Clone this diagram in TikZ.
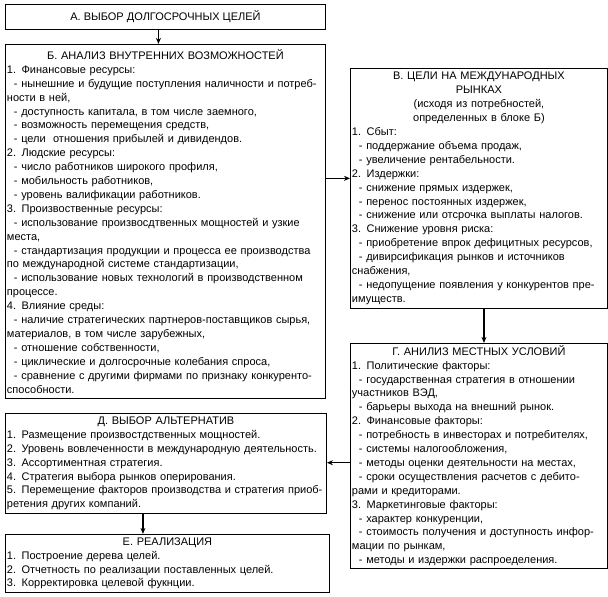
\documentclass[tikz,border=0pt]{standalone}
\usepackage{fontspec}
\setmainfont{Liberation Sans}
\usetikzlibrary{arrows.meta,positioning}
\tikzset{>={Stealth[length=6pt,width=5pt]},
  box/.style={draw=black,line width=0.9pt,anchor=north west,align=left,
    inner xsep=1.5pt,inner ysep=2pt,font=\fontsize{11}{13.9}\selectfont},
  flow/.style={->,line width=1.2pt,black}}
\newcommand{\ttl}[1]{\makebox[\hsize][c]{#1}}
\newcommand{\dl}{\hspace*{7pt}- }

\begin{document}
\begin{tikzpicture}[x=1pt,y=1pt]
  \useasboundingbox (0,0) rectangle (608,-597);
  \node[box,align=center,minimum width=320pt,minimum height=25pt] (a) at (5,-4)
    {А. ВЫБОР ДОЛГОСРОЧНЫХ ЦЕЛЕЙ};
  \node[box,text width=317pt,minimum height=354pt,below=14pt of a.south west,anchor=north west] (b)
    {\ttl{Б. АНАЛИЗ ВНУТРЕННИХ ВОЗМОЖНОСТЕЙ}\\
     1. Финансовые ресурсы:\\
     \dl нынешние и будущие поступления наличности и потреб-\\
     ности в ней,\\
     \dl доступность капитала, в том числе заемного,\\
     \dl возможность перемещения средств,\\
     \dl цели\ \ отношения прибылей и дивидендов.\\
     2. Людские ресурсы:\\
     \dl число работников широкого профиля,\\
     \dl мобильность работников,\\
     \dl уровень валификации работников.\\
     3. Произвоственные ресурсы:\\
     \dl использование произвосдтвенных мощностей и узкие\\
     места,\\
     \dl стандартизация продукции и процесса ее производства\\
     по международной системе стандартизации,\\
     \dl использование новых технологий в производственном\\
     процессе.\\
     4. Влияние среды:\\
     \dl наличие стратегических партнеров-поставщиков сырья,\\
     материалов, в том числе зарубежных,\\
     \dl отношение собственности,\\
     \dl циклические и долгосрочные колебания спроса,\\
     \dl сравнение с другими фирмами по признаку конкуренто-\\
     способности.};
  \node[box,text width=254pt,minimum height=240pt] (v) at (350,-68)
    {\ttl{В. ЦЕЛИ НА МЕЖДУНАРОДНЫХ}\\
     \ttl{РЫНКАХ}\\
     \ttl{(исходя из потребностей,}\\
     \ttl{определенных в блоке Б)}\\
     1. Сбыт:\\
     \dl поддержание объема продаж,\\
     \dl увеличение рентабельности.\\
     2. Издержки:\\
     \dl снижение прямых издержек,\\
     \dl перенос постоянных издержек,\\
     \dl снижение или отсрочка выплаты налогов.\\
     3. Снижение уровня риска:\\
     \dl приобретение впрок дефицитных ресурсов,\\
     \dl дивирсификация рынков и источников\\
     снабжения,\\
     \dl недопущение появления у конкурентов пре-\\
     имуществ.};
  \node[box,text width=254pt,minimum height=223pt,below=34pt of v.south west,anchor=north west] (g)
    {\ttl{Г. АНИЛИЗ МЕСТНЫХ УСЛОВИЙ}\\
     1. Политические факторы:\\
     \dl государственная стратегия в отношении\\
     участников ВЭД,\\
     \dl барьеры выхода на внешний рынок.\\
     2. Финансовые факторы:\\
     \dl потребность в инвесторах и потребителях,\\
     \dl системы налогообложения,\\
     \dl методы оценки деятельности на местах,\\
     \dl сроки осуществления расчетов с дебито-\\
     рами и кредиторами.\\
     3. Маркетинговые факторы:\\
     \dl характер конкуренции,\\
     \dl стоимость получения и доступность инфор-\\
     мации по рынкам,\\
     \dl методы и издержки распроеделения.};
  \node[box,text width=318pt,minimum height=100pt] (d) at (5,-413)
    {\ttl{Д. ВЫБОР АЛЬТЕРНАТИВ}\\
     1. Размещение произвостдственных мощностей.\\
     2. Уровень вовлеченности в международную деятельность.\\
     3. Ассортиментная стратегия.\\
     4. Стратегия выбора рынков оперирования.\\
     5. Перемещение факторов производства и стратегия приоб-\\
     ретения других компаний.};
  \node[box,text width=321pt,minimum height=58pt,below=20pt of d.south west,anchor=north west] (e)
    {\ttl{Е. РЕАЛИЗАЦИЯ}\\
     1. Построение дерева целей.\\
     2. Отчетность по реализации поставленных целей.\\
     3. Корректировка целевой фукнции.};
  % arrows
  \draw[flow] ([xshift=-7pt]a.south) -- ([xshift=-7pt]a.south |- b.north);
  \draw[flow] ([yshift=43pt]b.east) -- ([yshift=43pt]b.east -| v.west);
  \draw[flow] ([xshift=5pt]v.south) -- ([xshift=5pt]v.south |- g.north);
  \draw[flow] ([yshift=-7pt]g.west) -- ([yshift=-7pt]g.west -| d.east);
  \draw[flow] ([xshift=-23pt]d.south) -- ([xshift=-23pt]d.south |- e.north);
\end{tikzpicture}
\end{document}
